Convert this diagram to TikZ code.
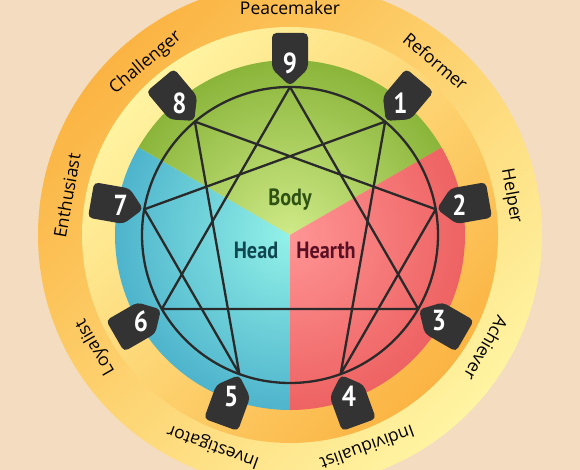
\documentclass[tikz,border=0pt]{standalone}
\usepackage{fontspec}
\setmainfont{Open Sans}
\newfontfamily\condfont[FakeStretch=0.86]{PT Sans}
\definecolor{bgcol}{HTML}{F3DCC0}
\definecolor{ringorange}{HTML}{FBB443}
\definecolor{ringyellow}{HTML}{FFF4A2}
\definecolor{greenout}{HTML}{8AB53A}
\definecolor{greenin}{HTML}{CFEA88}
\definecolor{blueout}{HTML}{4EB4CC}
\definecolor{bluein}{HTML}{93F2E8}
\definecolor{redout}{HTML}{EE6262}
\definecolor{redin}{HTML}{FF9595}
\definecolor{badgecol}{HTML}{333333}
\definecolor{linecol}{HTML}{2A2A2A}
\definecolor{bodycol}{HTML}{2F5214}
\definecolor{headcol}{HTML}{104650}
\definecolor{heartcol}{HTML}{5A1024}
\begin{document}
\begin{tikzpicture}[x=1pt,y=1pt,
  enline/.style={draw=linecol,line width=2.3pt,line join=round},
  badgeshape/.style={fill=badgecol,rounded corners=4.5pt},
  digit/.style={text=white,font=\condfont\bfseries\fontsize{29}{31}\selectfont,inner sep=0pt},
  zone/.style={font=\condfont\bfseries\fontsize{23.5}{26}\selectfont,inner sep=0pt},
  ringlabel/.style={font=\fontsize{17.5}{20}\selectfont,text=black,inner sep=0pt,anchor=base}]
\useasboundingbox (-290,-235) rectangle (290,235);
\fill[bgcol] (-290,-235) rectangle (290,235);
% rings
\shade[top color=ringorange, bottom color=ringyellow, shading angle=45] (0,0) circle (252pt);
\shade[top color=ringyellow, bottom color=ringorange, shading angle=45] (0,0) circle (208pt);
% sectors
\begin{scope}
  \clip (0,0) -- (30:190pt) arc (30:150:190pt) -- cycle;
  \shade[inner color=greenin, outer color=greenout] (0,0) circle (175pt);
\end{scope}
\begin{scope}
  \clip (0,0) -- (150:190pt) arc (150:270:190pt) -- cycle;
  \shade[inner color=bluein, outer color=blueout] (0,0) circle (175pt);
\end{scope}
\begin{scope}
  \clip (0,0) -- (270:190pt) arc (270:390:190pt) -- cycle;
  \shade[inner color=redin, outer color=redout] (0,0) circle (175pt);
\end{scope}
% zone labels
\node[zone,text=bodycol] (body) at (0,35) {Body};
\node[zone,text=headcol] (head) at (-34,-15) {Head};
\node[zone,text=heartcol] (heart) at (36,-15) {Hearth};
% points
\foreach \n/\a in {9/90,1/50,2/10,3/-30,4/-70,5/-110,6/-150,7/170,8/130}
  \coordinate (p\n) at (\a:148pt);
\draw[enline] (0,0) circle (148pt);
\draw[enline] (p1) -- (p4) -- (p2) -- (p8) -- (p5) -- (p7) -- cycle;
\draw[enline] (p9) -- (p3) -- (p6) -- cycle;
% badges, digits, ring labels
\foreach \n/\a/\lab in {9/90/Peacemaker,1/50/Reformer,2/10/Helper,3/-30/Achiever,4/-70/Individualist,5/-110/Investigator,6/-150/Loyalist,7/170/Enthusiast,8/130/Challenger}{
  \begin{scope}[shift={(p\n)},rotate=\a-90]
    \path[badgeshape] (0,1) -- (18,18) -- (18,54) -- (-18,54) -- (-18,18) -- cycle;
  \end{scope}
  \node[digit] (d\n) at (\a:172pt) {\n};
  \node[ringlabel,rotate=\a-90] (l\n) at (\a:220pt) {\lab};
}
\end{tikzpicture}
\end{document}
